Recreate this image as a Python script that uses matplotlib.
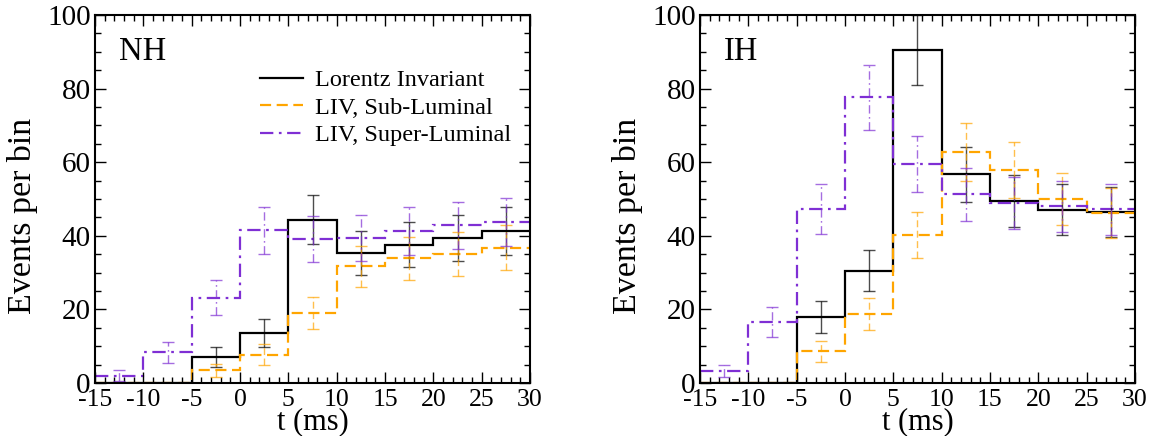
import numpy as np
import matplotlib.pyplot as plt
from matplotlib.ticker import MultipleLocator

plt.rcParams['font.family'] = ['Liberation Serif', 'DejaVu Serif']
plt.rcParams['axes.unicode_minus'] = False

# bin edges in ms
edges = [-15, -10, -5, 0, 5, 10, 15, 20, 25, 30]

# NH panel
nh_li = [0, 0, 7.1, 13.6, 44.4, 35.4, 37.6, 39.4, 41.3]
nh_li_err = [0, 0, 2.7, 3.7, 6.7, 6.0, 6.1, 6.3, 6.4]
nh_sub = [0, 0, 3.4, 7.7, 19.1, 31.7, 33.9, 35.0, 36.8]
nh_sub_err = [0, 0, 1.85, 2.8, 4.4, 5.6, 5.9, 5.9, 6.1]
nh_sup = [2.0, 8.3, 23.2, 41.5, 39.1, 39.4, 41.3, 42.8, 43.8]
nh_sup_err = [1.4, 2.9, 4.8, 6.4, 6.25, 6.3, 6.4, 6.5, 6.6]

# IH panel
ih_li = [0, 0, 18.0, 30.5, 90.5, 56.7, 49.5, 47.1, 46.5]
ih_li_err = [0, 0, 4.3, 5.6, 9.5, 7.5, 7.0, 6.9, 6.8]
ih_sub = [0, 0, 8.6, 18.7, 40.2, 62.7, 57.9, 50.0, 46.2]
ih_sub_err = [0, 0, 2.9, 4.3, 6.3, 7.9, 7.6, 7.1, 6.8]
ih_sup = [3.2, 16.5, 47.4, 77.6, 59.5, 51.3, 48.9, 48.0, 47.2]
ih_sup_err = [1.7, 4.1, 6.8, 8.8, 7.7, 7.2, 7.0, 6.9, 6.9]

labels = ['Lorentz Invariant', 'LIV, Sub-Luminal', 'LIV, Super-Luminal']
colors = ['black', '#FFA500', '#7F2FD4']
styles = ['-', (0, (5, 2.5)), (0, (6, 2.5, 1.2, 2.5))]

centers = 0.5 * (np.array(edges[:-1]) + np.array(edges[1:]))

fig = plt.figure(figsize=(11.49, 4.36), dpi=100)
ax1 = fig.add_axes([0.0827, 0.1216, 0.3786, 0.844])
ax2 = fig.add_axes([0.6092, 0.1216, 0.3786, 0.844])


def draw_panel(ax, series, errs, tag):
    for vals, err, col, ls, lab in zip(series, errs, colors, styles, labels):
        ax.stairs(vals, edges, baseline=None, color=col, lw=1.6, linestyle=ls, label=lab)
        vals = np.array(vals)
        err = np.array(err)
        m = vals > 0
        eb = ax.errorbar(centers[m], vals[m], yerr=err[m], fmt='none', ecolor=col,
                         elinewidth=1.0, capsize=4, capthick=1.0, alpha=0.7)
        eb[2][0].set_linestyle(ls)
    ax.set_xlim(-15, 30)
    ax.set_ylim(0, 100)
    ax.xaxis.set_major_locator(MultipleLocator(5))
    ax.xaxis.set_minor_locator(MultipleLocator(1))
    ax.yaxis.set_major_locator(MultipleLocator(20))
    ax.yaxis.set_minor_locator(MultipleLocator(5))
    ax.tick_params(which='both', direction='in', top=True, right=True)
    ax.tick_params(axis='x', labelsize=18.5, pad=4)
    ax.tick_params(axis='y', labelsize=21, pad=3)
    ax.tick_params(which='major', length=8, width=1.0)
    ax.tick_params(which='minor', length=4, width=1.0)
    for sp in ax.spines.values():
        sp.set_linewidth(1.5)
    ax.set_xlabel('t (ms)', fontsize=22)
    ax.xaxis.set_label_coords(0.5, -0.066)
    ax.set_ylabel('Events per bin', fontsize=24.5)
    ax.yaxis.set_label_coords(-0.13, 0.455)
    ax.text(0.055, 0.878, tag, transform=ax.transAxes, fontsize=23.5, va='baseline', ha='left')


draw_panel(ax1, [nh_li, nh_sub, nh_sup], [nh_li_err, nh_sub_err, nh_sup_err], 'NH')
draw_panel(ax2, [ih_li, ih_sub, ih_sup], [ih_li_err, ih_sub_err, ih_sup_err], 'IH')

ax1.legend(loc='upper left', bbox_to_anchor=(0.38, 0.852), frameon=False, fontsize=17.5,
           handlelength=1.75, handletextpad=0.5, labelspacing=0.22,
           borderpad=0, borderaxespad=0)

fig.savefig('out.png', dpi=100)
